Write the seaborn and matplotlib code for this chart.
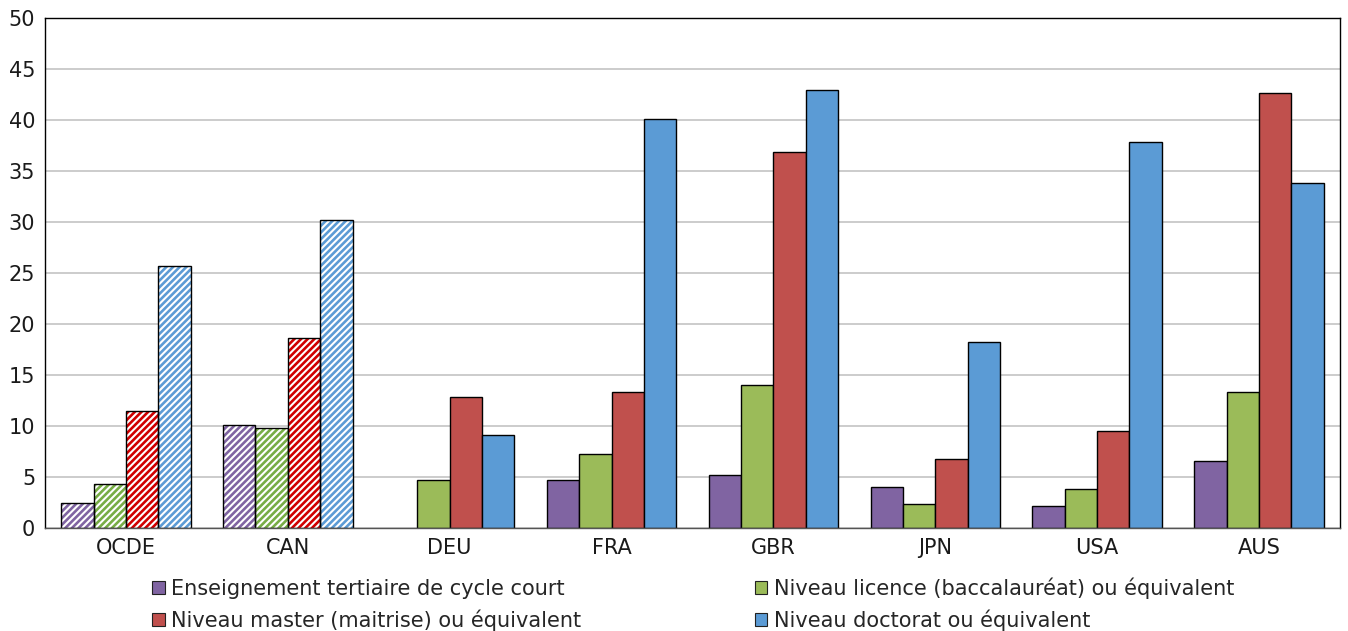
import matplotlib
matplotlib.use("Agg")
import matplotlib.pyplot as plt
import seaborn as sns
import pandas as pd
import numpy as np
from matplotlib.patches import Patch, Rectangle

countries = ["OCDE", "CAN", "DEU", "FRA", "GBR", "JPN", "USA", "AUS"]
series_names = [
    "Enseignement tertiaire de cycle court",
    "Niveau licence (baccalauréat) ou équivalent",
    "Niveau master (maitrise) ou équivalent",
    "Niveau doctorat ou équivalent",
]
short_cycle = [2.5, 10.1, np.nan, 4.7, 5.2, 4.0, 2.2, 6.6]
licence = [4.3, 9.8, 4.7, 7.3, 14.0, 2.4, 3.8, 13.3]
master = [11.5, 18.6, 12.9, 13.3, 36.9, 6.8, 9.5, 42.6]
doctorat = [25.7, 30.2, 9.1, 40.1, 42.9, 18.2, 37.8, 33.8]
hatched_countries = ["OCDE", "CAN"]

colors = ["#8064A2", "#9BBB59", "#C0504D", "#5B9BD5"]
hatch_colors = ["#8064A2", "#77AD45", "#D00000", "#5B9BD5"]

rows = []
for name, vals in zip(series_names, [short_cycle, licence, master, doctorat]):
    for c, v in zip(countries, vals):
        rows.append({"pays": c, "niveau": name, "valeur": v})
df = pd.DataFrame(rows)

sns.set_style("white")
plt.rcParams["font.family"] = ["DejaVu Sans"]
plt.rcParams["hatch.linewidth"] = 1.9

fig = plt.figure(figsize=(13.48, 6.31), dpi=100)
ax = fig.add_axes([0.0334, 0.163, 0.9606, 0.8085])

sns.barplot(data=df, x="pays", y="valeur", hue="niveau", order=countries,
            hue_order=series_names, palette=colors, width=0.8, gap=0,
            edgecolor="black", linewidth=1.0, saturation=1, legend=False, ax=ax)

for si, cont in enumerate(ax.containers):
    for ci, bar in enumerate(cont):
        if countries[ci] in hatched_countries:
            bar.set_facecolor("white")
            bar.set_edgecolor(hatch_colors[si])
            bar.set_hatch("/////")
            bar.set_linewidth(0)
            outline = Rectangle(bar.get_xy(), bar.get_width(), bar.get_height(),
                                fill=False, edgecolor="black", linewidth=1.0,
                                zorder=bar.get_zorder() + 0.1)
            ax.add_patch(outline)

ax.set_ylim(0, 50)
ax.set_yticks(range(0, 51, 5))
ax.set_xlim(-0.5, len(countries) - 0.5)
ax.yaxis.grid(True, color="#C8C8C8", linewidth=1.3)
ax.set_axisbelow(True)
ax.set_xlabel("")
ax.set_ylabel("")
ax.tick_params(axis="both", labelsize=15, length=0, colors="#1a1a1a")
ax.tick_params(axis="y", pad=7)
ax.tick_params(axis="x", pad=7)
for s in ax.spines.values():
    s.set_color("black")
    s.set_linewidth(1.0)
ax.spines["bottom"].set_color("#555555")

order = [0, 2, 1, 3]
handles = [Patch(facecolor=colors[i], edgecolor="#222222", linewidth=0.8) for i in order]
labels = [series_names[i] for i in order]
fig.legend(handles, labels, loc="upper left", bbox_to_anchor=(0.113, 0.085),
           ncol=2, frameon=False, fontsize=15, handlelength=0.62, handleheight=0.62,
           handletextpad=0.3, columnspacing=8.3, labelspacing=0.5, borderaxespad=0,
           borderpad=0)

fig.savefig("out.png", dpi=100)
